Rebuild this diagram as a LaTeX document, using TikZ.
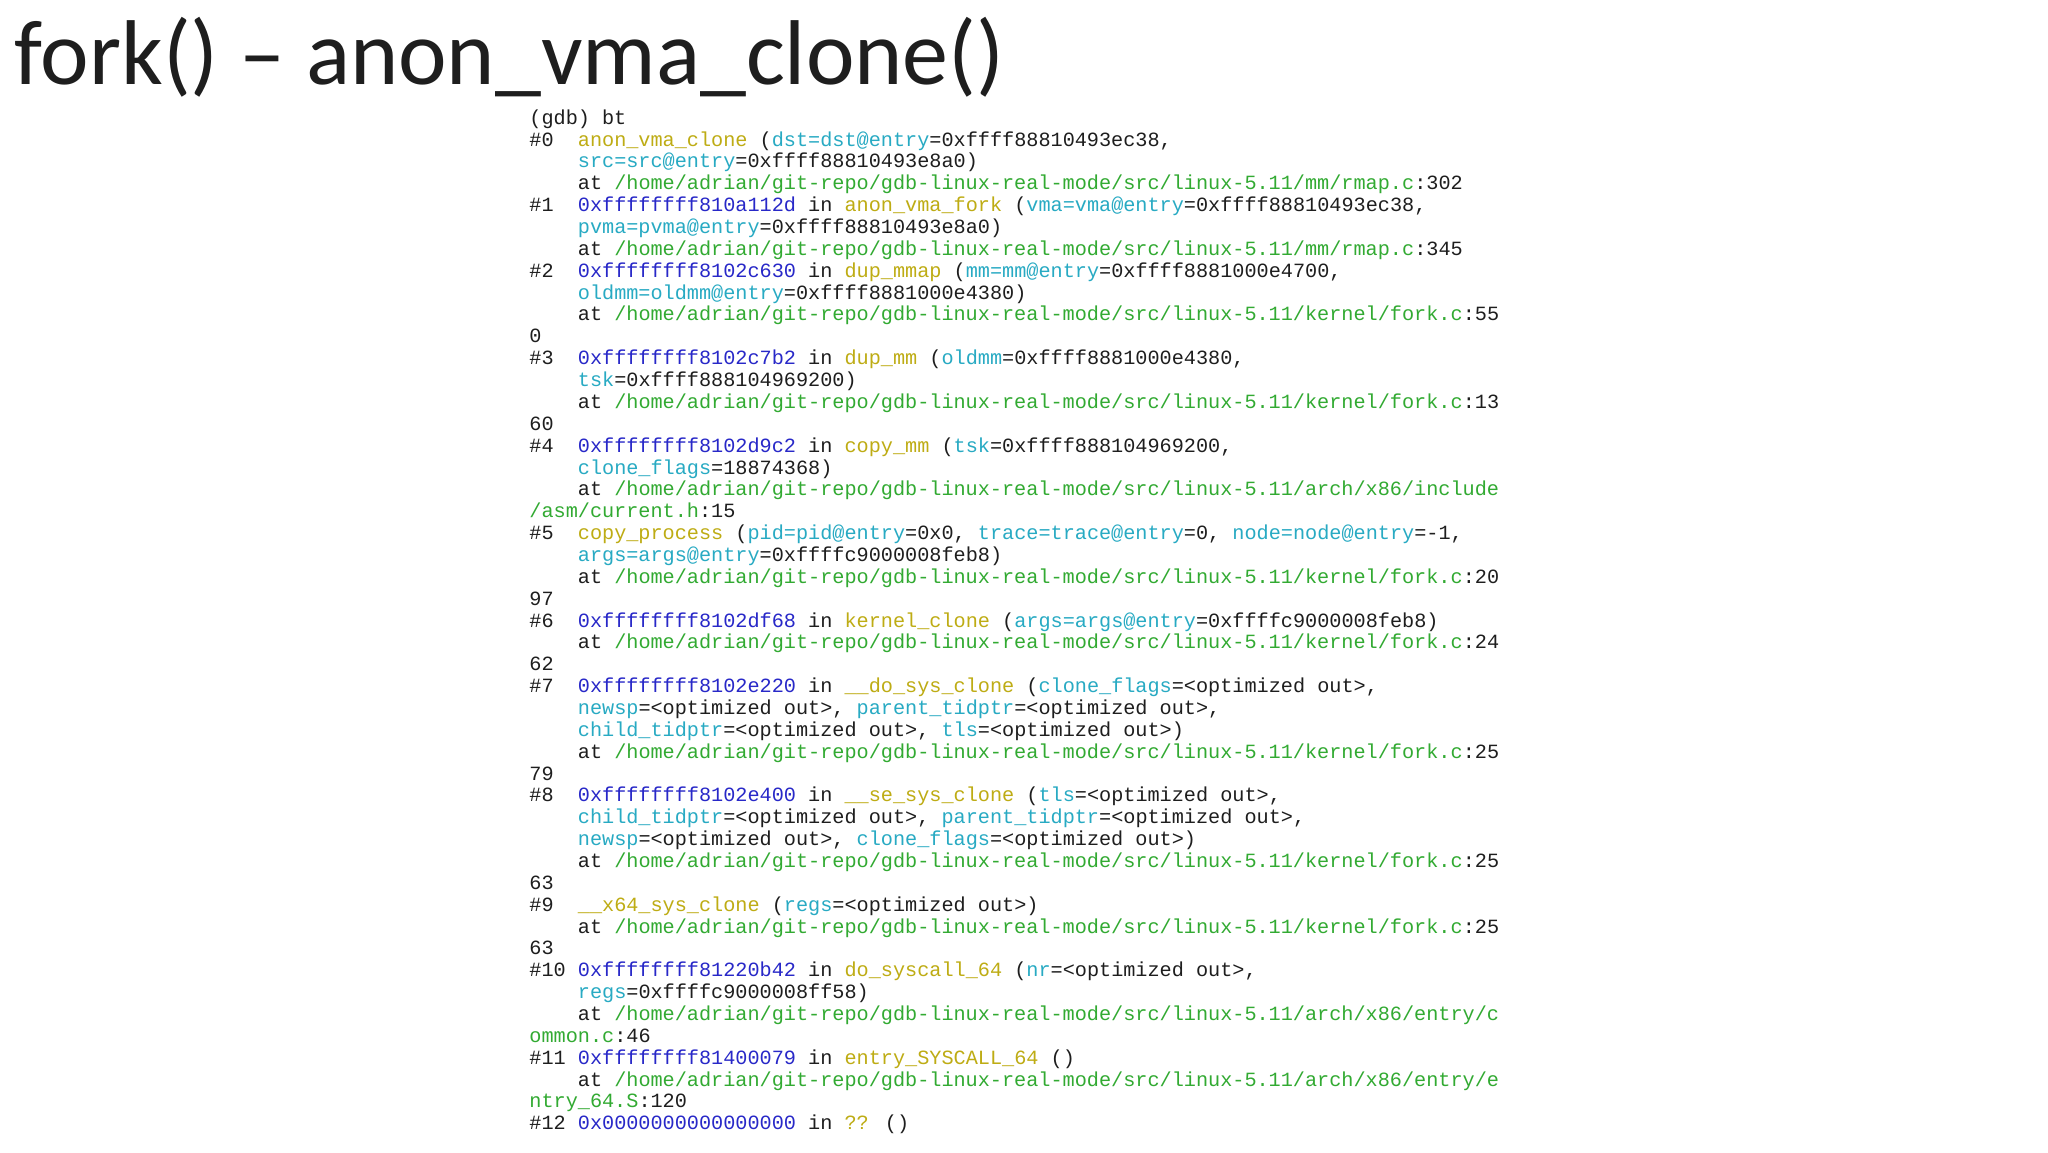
\documentclass[tikz,border=0pt]{standalone}
\usepackage{fontspec}
\setmainfont{Carlito}
\newfontfamily\monof{Liberation Mono}
\definecolor{cfn}{RGB}{190,172,20}
\definecolor{cpa}{RGB}{40,170,195}
\definecolor{cad}{RGB}{40,40,200}
\definecolor{cpt}{RGB}{50,170,50}
\definecolor{ctx}{RGB}{30,30,30}
\newcommand{\Fn}[1]{\textcolor{cfn}{#1}}
\newcommand{\Pa}[1]{\textcolor{cpa}{#1}}
\newcommand{\Ad}[1]{\textcolor{cad}{#1}}
\newcommand{\Pt}[1]{\textcolor{cpt}{#1}}
\newcommand{\ind}{\hphantom{xxxx}}
\newcommand{\Hm}{/home/adrian/git-repo/gdb-linux-real-mode/src/linux-5.11/}
\tikzset{
  titletext/.style={anchor=base west, inner sep=0pt, font=\fontsize{46}{50}\selectfont, text=ctx},
  bttext/.style={anchor=north west, inner sep=0pt, align=left, text=ctx, font=\monof\fontsize{10.1}{10.93}\selectfont}
}
\begin{document}
\begin{tikzpicture}
\useasboundingbox[fill=white] (0,0) rectangle (1024pt,-576pt);
\node[titletext] (title) at (7pt,-42pt) {fork() – anon\_vma\_clone()};
\node[bttext] (bt) at (264.5pt,-54.6pt) {%
(gdb) bt\\
\#0\ \ \Fn{anon\_vma\_clone} (\Pa{dst=dst@entry}=0xffff88810493ec38,\\
\ind\Pa{src=src@entry}=0xffff88810493e8a0)\\
\ind at \Pt{\Hm mm/rmap.c}:302\\
\#1\ \ \Ad{0xffffffff810a112d} in \Fn{anon\_vma\_fork} (\Pa{vma=vma@entry}=0xffff88810493ec38,\\
\ind\Pa{pvma=pvma@entry}=0xffff88810493e8a0)\\
\ind at \Pt{\Hm mm/rmap.c}:345\\
\#2\ \ \Ad{0xffffffff8102c630} in \Fn{dup\_mmap} (\Pa{mm=mm@entry}=0xffff8881000e4700,\\
\ind\Pa{oldmm=oldmm@entry}=0xffff8881000e4380)\\
\ind at \Pt{\Hm kernel/fork.c}:55\\
0\\
\#3\ \ \Ad{0xffffffff8102c7b2} in \Fn{dup\_mm} (\Pa{oldmm}=0xffff8881000e4380,\\
\ind\Pa{tsk}=0xffff888104969200)\\
\ind at \Pt{\Hm kernel/fork.c}:13\\
60\\
\#4\ \ \Ad{0xffffffff8102d9c2} in \Fn{copy\_mm} (\Pa{tsk}=0xffff888104969200,\\
\ind\Pa{clone\_flags}=18874368)\\
\ind at \Pt{\Hm arch/x86/include}\\
\Pt{/asm/current.h}:15\\
\#5\ \ \Fn{copy\_process} (\Pa{pid=pid@entry}=0x0, \Pa{trace=trace@entry}=0, \Pa{node=node@entry}=-1,\\
\ind\Pa{args=args@entry}=0xffffc9000008feb8)\\
\ind at \Pt{\Hm kernel/fork.c}:20\\
97\\
\#6\ \ \Ad{0xffffffff8102df68} in \Fn{kernel\_clone} (\Pa{args=args@entry}=0xffffc9000008feb8)\\
\ind at \Pt{\Hm kernel/fork.c}:24\\
62\\
\#7\ \ \Ad{0xffffffff8102e220} in \Fn{\_\_do\_sys\_clone} (\Pa{clone\_flags}=<optimized out>,\\
\ind\Pa{newsp}=<optimized out>, \Pa{parent\_tidptr}=<optimized out>,\\
\ind\Pa{child\_tidptr}=<optimized out>, \Pa{tls}=<optimized out>)\\
\ind at \Pt{\Hm kernel/fork.c}:25\\
79\\
\#8\ \ \Ad{0xffffffff8102e400} in \Fn{\_\_se\_sys\_clone} (\Pa{tls}=<optimized out>,\\
\ind\Pa{child\_tidptr}=<optimized out>, \Pa{parent\_tidptr}=<optimized out>,\\
\ind\Pa{newsp}=<optimized out>, \Pa{clone\_flags}=<optimized out>)\\
\ind at \Pt{\Hm kernel/fork.c}:25\\
63\\
\#9\ \ \Fn{\_\_x64\_sys\_clone} (\Pa{regs}=<optimized out>)\\
\ind at \Pt{\Hm kernel/fork.c}:25\\
63\\
\#10 \Ad{0xffffffff81220b42} in \Fn{do\_syscall\_64} (\Pa{nr}=<optimized out>,\\
\ind\Pa{regs}=0xffffc9000008ff58)\\
\ind at \Pt{\Hm arch/x86/entry/c}\\
\Pt{ommon.c}:46\\
\#11 \Ad{0xffffffff81400079} in \Fn{entry\_SYSCALL\_64} ()\\
\ind at \Pt{\Hm arch/x86/entry/e}\\
\Pt{ntry\_64.S}:120\\
\#12 \Ad{0x0000000000000000} in \Fn{??} ()};
\end{tikzpicture}
\end{document}
